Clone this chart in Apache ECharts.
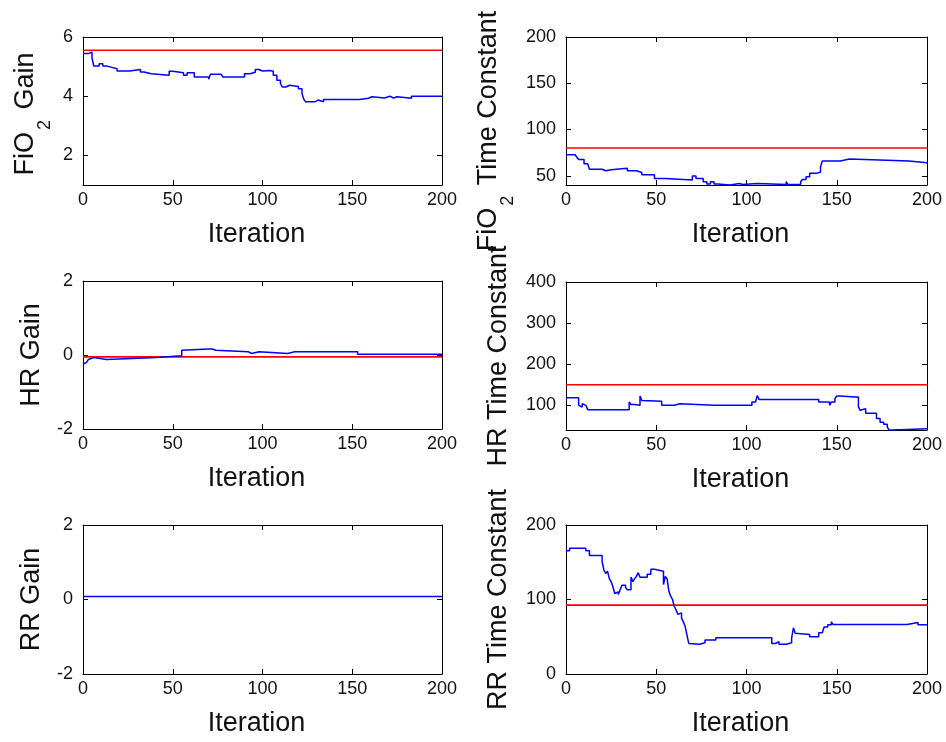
<!DOCTYPE html>
<html>
<head>
<meta charset="utf-8">
<script src="https://cdn.jsdelivr.net/npm/echarts@6/dist/echarts.min.js"></script>
<style>
html,body{margin:0;padding:0;background:#fff;}
#c{width:946px;height:742px;}
</style>
</head>
<body>
<div id="c"></div>
<script>
// ---------- data ----------
const xTickValues = [0, 50, 100, 150, 200];

const fio2GainIter = [0,3,5,6,9,11,13,15,19,26,32,34,38,48,50,56,58,62,70,71,77,78,90,93,96,98,100,104,106,108,110,111,113,115,120,122,123,124,129,131,134,154,159,161,168,171,173,175,183,200];
const fio2GainVal  = [5.44,5.49,5.3,5.02,5.1,5.02,4.99,4.93,4.85,4.9,4.82,4.76,4.71,4.84,4.79,4.71,4.79,4.65,4.57,4.74,4.69,4.65,4.76,4.81,4.9,4.85,4.87,4.84,4.71,4.54,4.43,4.31,4.37,4.33,4.25,4.09,3.9,3.81,3.87,3.81,3.89,3.93,3.98,3.94,4.0,3.94,3.98,3.93,4.0,4.0];
const fio2GainRef = 5.55;
const fio2GainTicks = [2, 4, 6];

const fio2TcIter = [0,5,6,7,10,12,13,20,22,25,34,39,42,49,55,70,72,76,78,80,82,84,91,96,98,106,122,123,130,131,133,135,139,141,142,152,157,190,200];
const fio2TcVal  = [72.7,74,70,67.6,63,61,57,55.4,56.5,58,55.4,53.6,51,47,45.3,49.6,47,43.5,41,43.5,41,40,41.6,40.5,41.6,40.5,43.5,40.5,43.5,46,49,52.6,54,59.7,66,68,66,64,64];
const fio2TcRef = 80;
const fio2TcTicks = [50, 100, 150, 200];

const hrGainIter = [0,1,2,3,4,6,13,41,55,56,70,71,72,74,92,94,98,114,118,119,153,200];
const hrGainVal  = [-0.25,-0.2,-0.16,-0.12,-0.07,-0.12,-0.07,-0.02,0.13,0.16,0.2,0.16,0.13,0.09,0.04,0.09,0.04,0.09,0.13,0.09,0.02,0.02];
const hrGainRef = -0.05;
const hrGainTicks = [-2, 0, 2];

const hrTcIter = [0,7,8,9,10,11,12,35,36,38,41,42,43,53,60,63,82,83,103,105,106,107,140,146,147,149,150,152,160,161,162,163,164,166,172,174,176,178,179,181,200];
const hrTcVal  = [118.6,100,96,104,100,104,89.5,108,102,100,122.7,112,110,100,104,100,103,100,108,112,124,114,108,100,108,116,123,120,116,120,96,88,92,81,68,59,54,47,40,43,43];
const hrTcRef = 150;
const hrTcTicks = [100, 200, 300, 400];

const rrGainIter = [0, 200];
const rrGainVal  = [0.08, 0.08];
const rrGainTicks = [-2, 0, 2];

const rrTcIter = [0,2,11,13,20,21,22,23,24,25,26,27,28,29,30,31,33,34,36,37,38,39,40,41,45,47,49,54,55,56,57,58,59,60,61,62,63,64,65,66,67,68,69,74,77,83,114,116,118,122,125,126,127,128,135,140,142,143,145,147,148,189,195,200];
const rrTcVal  = [165.5,168.7,165.5,159,151,139.6,135,138,128,124,117,108,110,106.7,113,119,116,113,130,124,128,131,136,130,134,140.5,138,120,131,128,111,104.5,100,90.6,86,80,82,75,70,64,52.6,41,40,42,45.6,48.8,41,43.4,40,42,48,62,54.6,53,50,55.4,57,63,66,70,66.5,69,66,66];
const rrTcRef = 92.4;
const rrTcTicks = [0, 100, 200];

// ---------- layout ----------
const FONT = 'Liberation Sans, Arial, Helvetica, sans-serif';
const panels = [
  {iter: fio2GainIter, val: fio2GainVal, ref: fio2GainRef, min: 1,  max: 6,   ticks: fio2GainTicks, name: '{n|FiO}{s|2}{n| Gain}', rich: true,
   grid: {left: 83, top: 37, width: 359, height: 148}, gap: 29, pad: [0, 6, 0, 0]},
  {iter: fio2TcIter, val: fio2TcVal, ref: fio2TcRef, min: 40, max: 200, ticks: fio2TcTicks, name: '{n|FiO}{s|2}{n| Time Constant}', rich: true,
   grid: {left: 566, top: 37, width: 361, height: 148}, gap: 49, pad: [0, 40, 0, 0]},
  {iter: hrGainIter, val: hrGainVal, ref: hrGainRef, min: -2, max: 2, ticks: hrGainTicks, name: 'HR Gain',
   grid: {left: 83, top: 281, width: 359, height: 148}, gap: 34},
  {iter: hrTcIter, val: hrTcVal, ref: hrTcRef, min: 40, max: 400, ticks: hrTcTicks, name: 'HR Time Constant',
   grid: {left: 566, top: 282, width: 361, height: 148}, gap: 50},
  {iter: rrGainIter, val: rrGainVal, ref: null, min: -2, max: 2, ticks: rrGainTicks, name: 'RR Gain',
   grid: {left: 83, top: 525, width: 359, height: 149}, gap: 34},
  {iter: rrTcIter, val: rrTcVal, ref: rrTcRef, min: 0, max: 200, ticks: rrTcTicks, name: 'RR Time Constant',
   grid: {left: 566, top: 525, width: 361, height: 149}, gap: 50}
];

const grids = [], xAxes = [], yAxes = [], series = [];
const lineStyleAxis = {show: true, lineStyle: {color: '#000', width: 1}};
const tickInside = (vals) => ({show: true, inside: true, length: 5, customValues: vals, lineStyle: {color: '#000', width: 1}});

panels.forEach((p, i) => {
  grids.push(Object.assign({containLabel: false, outerBoundsMode: 'none'}, p.grid));
  xAxes.push({
    type: 'value', gridIndex: i, position: 'bottom', min: 0, max: 200,
    axisLine: Object.assign({onZero: false}, lineStyleAxis),
    axisTick: tickInside(xTickValues),
    axisLabel: {customValues: xTickValues, fontSize: 18, color: '#111', fontFamily: FONT, margin: 6},
    splitLine: {show: false},
    name: 'Iteration', nameLocation: 'middle', nameGap: 36,
    nameTextStyle: {fontSize: 27, color: '#111', fontFamily: FONT, padding: [0, 12, 0, 0]}
  });
  xAxes.push({
    type: 'value', gridIndex: i, position: 'top', min: 0, max: 200,
    axisLine: Object.assign({onZero: false}, lineStyleAxis),
    axisTick: tickInside(xTickValues),
    axisLabel: {show: false}, splitLine: {show: false}
  });
  const nameStyle = p.rich ? {
    fontFamily: FONT, color: '#111', padding: p.pad,
    rich: {
      n: {fontSize: 27, lineHeight: 34, verticalAlign: 'top', fontFamily: FONT, color: '#111'},
      s: {fontSize: 18, verticalAlign: 'top', padding: [24, 3, 0, 2], fontFamily: FONT, color: '#111'}
    }
  } : {fontSize: 27, lineHeight: 34, fontFamily: FONT, color: '#111'};
  yAxes.push({
    type: 'value', gridIndex: i, position: 'left', min: p.min, max: p.max,
    axisLine: Object.assign({onZero: false}, lineStyleAxis),
    axisTick: tickInside(p.ticks),
    axisLabel: {customValues: p.ticks, fontSize: 18, color: '#111', fontFamily: FONT, margin: 10},
    splitLine: {show: false},
    name: p.name, nameLocation: 'middle', nameRotate: 90, nameGap: p.gap, nameMoveOverlap: false,
    nameTextStyle: nameStyle
  });
  yAxes.push({
    type: 'value', gridIndex: i, position: 'right', min: p.min, max: p.max,
    axisLine: Object.assign({onZero: false}, lineStyleAxis),
    axisTick: tickInside(p.ticks),
    axisLabel: {show: false}, splitLine: {show: false}
  });
  if (p.ref !== null) {
    series.push({
      type: 'line', xAxisIndex: 2 * i, yAxisIndex: 2 * i, symbol: 'none', silent: true,
      lineStyle: {color: '#ff0000', width: 1.6},
      data: [[0, p.ref], [200, p.ref]]
    });
  }
  series.push({
    type: 'line', xAxisIndex: 2 * i, yAxisIndex: 2 * i, symbol: 'none', step: 'end', silent: true,
    lineStyle: {color: '#0000ff', width: 1.5},
    data: p.iter.map((x, k) => [x, p.val[k]])
  });
});

const chart = echarts.init(document.getElementById('c'), null, {renderer: 'canvas'});
chart.setOption({
  animation: false,
  backgroundColor: '#fff',
  grid: grids, xAxis: xAxes, yAxis: yAxes, series: series
});
</script>
</body>
</html>
